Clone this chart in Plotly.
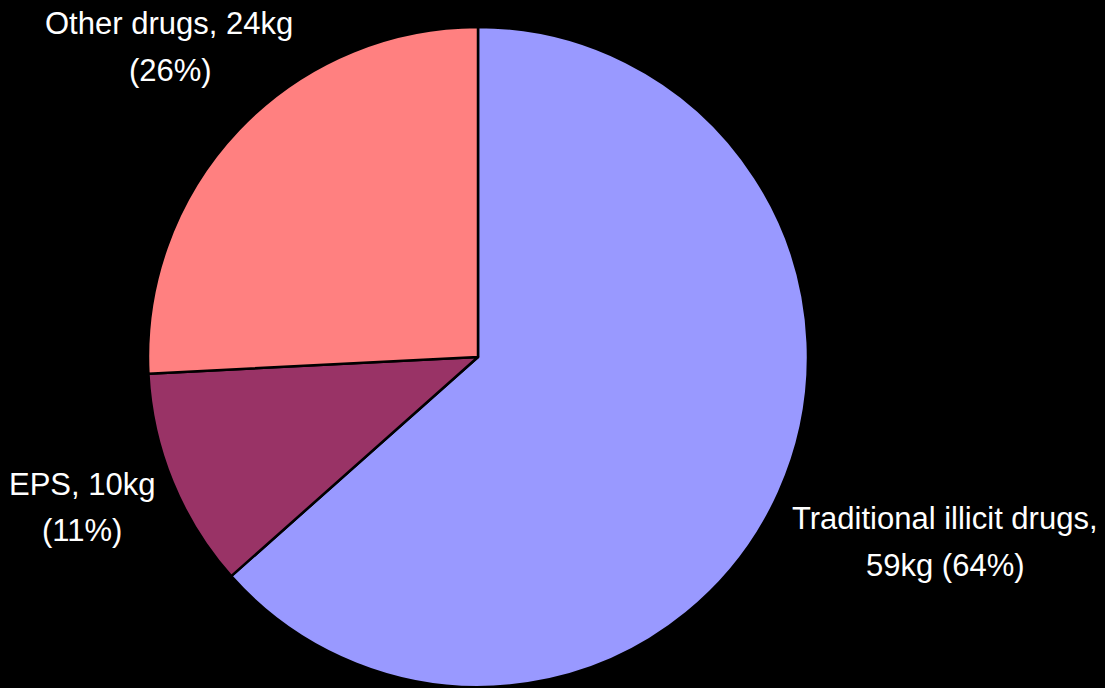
import plotly.graph_objects as go

categories = ["Traditional illicit drugs", "EPS", "Other drugs"]
weights_kg = [59, 10, 24]
percent_labels = [64, 11, 26]
colors = ["#9999FF", "#993366", "#FF8080"]

W, H = 1105, 688
cx, cy, r = 478, 357, 330

fig = go.Figure(go.Pie(
    labels=categories,
    values=weights_kg,
    sort=False,
    direction="clockwise",
    rotation=0,
    textinfo="none",
    hoverinfo="label+value+percent",
    marker=dict(colors=colors, line=dict(color="black", width=2.5)),
    domain=dict(x=[(cx - r) / W, (cx + r) / W], y=[1 - (cy + r) / H, 1 - (cy - r) / H]),
    showlegend=False,
))

# label lines: (text, x_px, y_px)
lab_lines = [
    (f"{categories[0]},", 945, 518),
    (f"{weights_kg[0]}kg ({percent_labels[0]}%)", 945, 565),
    (f"{categories[1]}, {weights_kg[1]}kg", 82, 484),
    (f"({percent_labels[1]}%)", 82, 530),
    (f"{categories[2]}, {weights_kg[2]}kg", 169, 24),
    (f"({percent_labels[2]}%)", 170, 71),
]
for t, x, y in lab_lines:
    fig.add_annotation(text=t, x=x / W, y=1 - y / H, xref="paper", yref="paper",
                       xanchor="center", yanchor="middle", showarrow=False,
                       font=dict(family="Liberation Sans, Arial", size=31, color="white"))

fig.update_layout(
    width=W, height=H,
    margin=dict(l=0, r=0, t=0, b=0),
    paper_bgcolor="black", plot_bgcolor="black",
)
fig.write_html("out.html", config={"displayModeBar": False},
               post_script="document.body.style.margin='0';document.body.style.background='black';")
